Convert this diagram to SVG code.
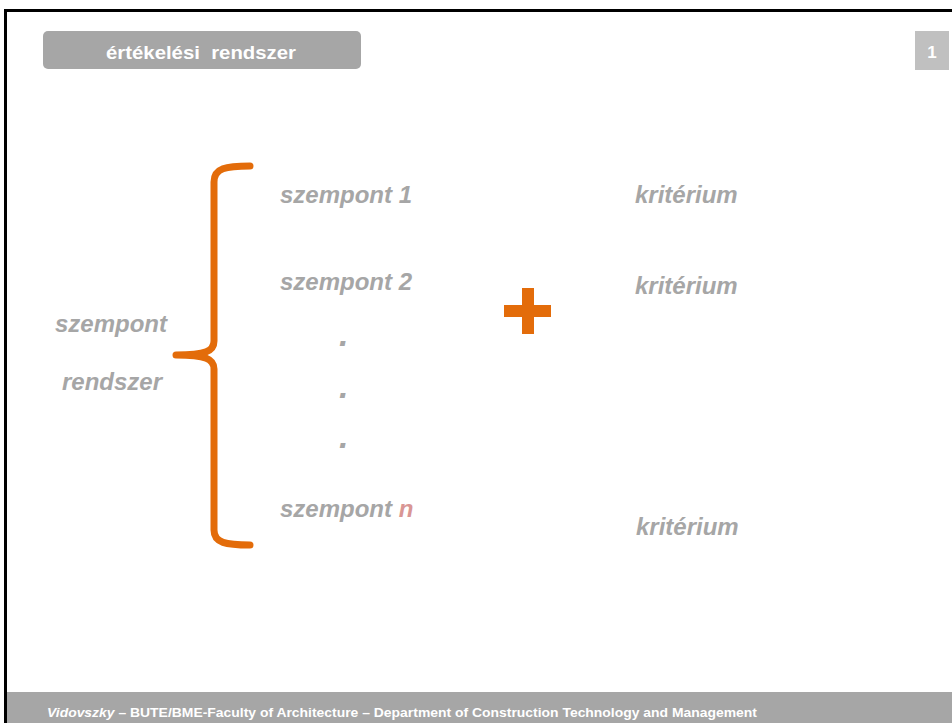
<svg xmlns="http://www.w3.org/2000/svg" width="952" height="723" viewBox="0 0 952 723">
<style>
.t{font-family:"Liberation Sans",Arial,sans-serif;font-size:24px;font-weight:bold;font-style:italic;fill:#a6a6a6}
.d{font-size:34px}
.hdr{font-family:"Liberation Sans",Arial,sans-serif;font-weight:bold;fill:#ffffff;white-space:pre}
.brace{fill:none;stroke:#e36c0a;stroke-width:7;stroke-linecap:round;stroke-linejoin:round}
</style>
<rect x="0" y="0" width="952" height="723" fill="#ffffff"/>
<rect x="7" y="692" width="945" height="31" fill="#a6a6a6"/>
<path d="M5.5,723 L5.5,10.5 L952,10.5" fill="none" stroke="#000000" stroke-width="3"/>
<g id="header">
<rect x="43" y="31" width="318" height="38" rx="5" fill="#a6a6a6"/>
<text class="hdr" x="106" y="59" font-size="18" xml:space="preserve" textLength="190" lengthAdjust="spacingAndGlyphs">értékelési  rendszer</text>
</g>
<g id="page">
<rect x="915" y="31" width="34" height="39" fill="#c0c0c0"/>
<text class="hdr" x="932" y="58" font-size="17" text-anchor="middle">1</text>
</g>
<g id="footer">
<text class="hdr" x="47" y="717" font-size="13" textLength="710" lengthAdjust="spacingAndGlyphs"><tspan font-style="italic">Vidovszky</tspan> – BUTE/BME-Faculty of Architecture – Department of Construction Technology and Management</text>
</g>
<g id="system">
<text class="t" x="55" y="332">szempont</text>
<text class="t" x="62" y="390">rendszer</text>
</g>
<g id="connectors">
<path class="brace" d="M250,166 C226,166 214,168 214,182 L214,341 C214,351 206,355 176,355 C206,355 214,359 214,369 L214,530 C214,543 226,545 250,545"/>
</g>
<g id="szempont1"><text class="t" x="280" y="203">szempont 1</text></g>
<g id="szempont2"><text class="t" x="280" y="290">szempont 2</text></g>
<g id="dots">
<text class="t d" x="339" y="346">.</text>
<text class="t d" x="339" y="398">.</text>
<text class="t d" x="339" y="448">.</text>
</g>
<g id="szempontn"><text class="t" x="280" y="517">szempont <tspan fill="#d99694">n</tspan></text></g>
<g id="plus">
<rect x="522" y="288" width="12" height="46" fill="#e36c0a"/>
<rect x="504" y="305" width="47" height="12" fill="#e36c0a"/>
</g>
<g id="kriterium1"><text class="t" x="635" y="203">kritérium</text></g>
<g id="kriterium2"><text class="t" x="635" y="294">kritérium</text></g>
<g id="kriterium3"><text class="t" x="636" y="535">kritérium</text></g>
</svg>
